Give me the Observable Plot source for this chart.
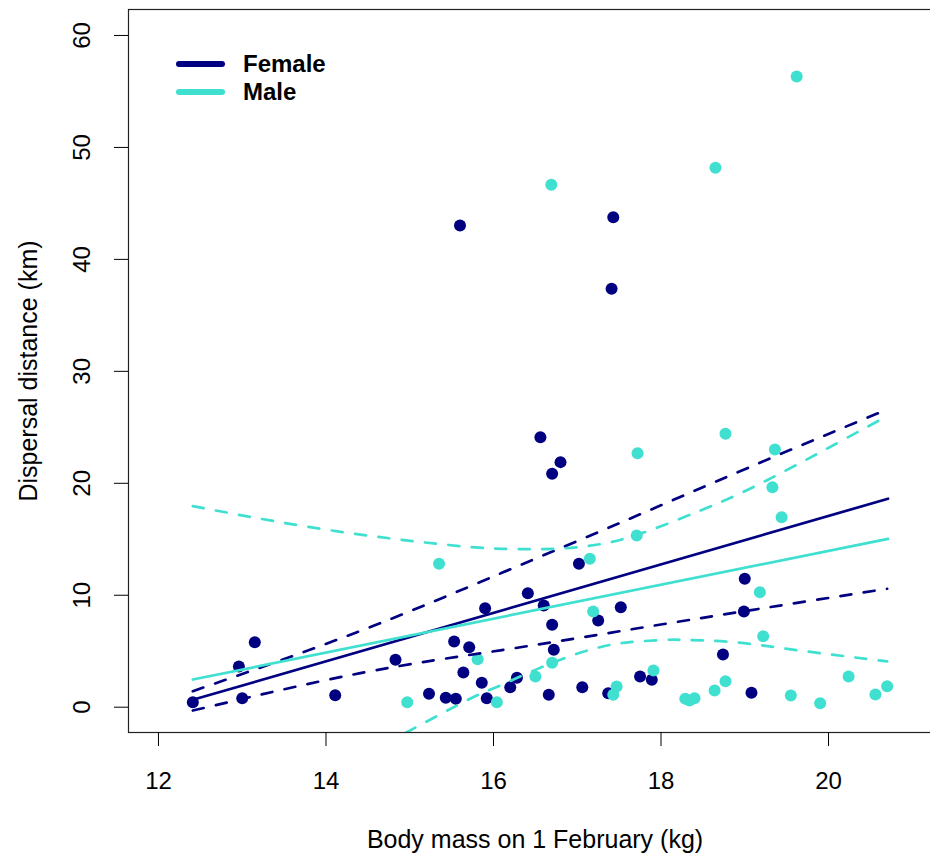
<!DOCTYPE html>
<html><head><meta charset="utf-8">
<script src="https://cdn.jsdelivr.net/npm/d3@7"></script>
<script src="https://cdn.jsdelivr.net/npm/@observablehq/plot@0.6"></script>
<style>
html,body{margin:0;padding:0;background:#fff;overflow:hidden;}
#wrap{position:relative;width:930px;height:857px;overflow:hidden;}
#wrap svg{max-width:none !important;display:block;}
#legend{position:absolute;left:176px;top:50px;font:bold 24px "Liberation Sans",Arial,sans-serif;color:#000;}
.row{display:flex;align-items:center;height:28.3px;}
.sw{width:49px;height:6px;border-radius:3px;margin-right:18px;}
</style></head><body><div id="wrap"><div id="legend"></div></div>
<script>
// Observed data
const femaleMass = [12.41,12.96,13.00,13.15,14.11,14.83,15.23,15.43,15.55,15.53,15.71,15.64,15.90,15.86,15.92,16.20,16.28,16.41,16.60,16.70,16.72,16.66,17.06,17.25,17.52,17.37,17.75,17.89,18.74,19.00,18.99,19.08,17.02,16.56,16.80,16.70,15.60,17.43,17.41];
const femaleDist = [0.45,3.63,0.80,5.81,1.07,4.23,1.20,0.84,0.75,5.87,5.36,3.10,8.84,2.18,0.80,1.79,2.63,10.18,9.08,7.36,5.13,1.11,1.79,7.74,8.93,1.25,2.74,2.45,4.71,11.47,8.55,1.29,12.81,24.12,21.89,20.85,43.03,43.77,37.37];
const maleMass = [19.62,18.65,16.69,15.35,14.97,15.81,16.04,16.50,16.70,17.15,17.19,17.47,17.43,17.72,17.71,17.91,18.29,18.34,18.40,18.64,18.77,18.77,19.18,19.22,19.36,19.33,19.44,19.55,19.90,20.24,20.56,20.70];
const maleDist = [56.34,48.18,46.66,12.81,0.45,4.29,0.45,2.74,3.97,13.26,8.55,1.85,1.11,22.69,15.34,3.28,0.75,0.60,0.80,1.49,2.32,24.42,10.27,6.34,23.02,19.65,16.97,1.05,0.36,2.74,1.13,1.88];

// Fitted lines and confidence bands
const femaleFitX = [12.41, 20.71];
const femaleFitY = [0.66, 18.62];
const femaleUpperX = [12.41, 14.37, 16.10, 17.60, 19.06, 20.70];
const femaleUpperY = [1.43, 6.70, 12.00, 16.75, 21.45, 26.60];
const femaleLowerX = [12.41, 14.41, 16.10, 17.60, 19.10, 20.70];
const femaleLowerY = [-0.30, 3.04, 5.10, 6.90, 8.70, 10.58];
const maleFitX = [12.41, 20.71];
const maleFitY = [2.47, 15.04];
const maleUpperX = [12.41, 13.93, 15.32, 16.10, 16.72, 17.07, 17.63, 18.47, 19.26, 20.70];
const maleUpperY = [17.96, 15.94, 14.60, 14.15, 14.15, 14.35, 15.20, 17.57, 20.25, 26.00];
const maleLowerX = [14.95, 15.72, 16.08, 16.72, 17.27, 17.63, 18.07, 18.31, 18.87, 19.66, 20.70];
const maleLowerY = [-2.29, 0.75, 1.94, 4.02, 5.36, 5.81, 6.02, 6.00, 5.81, 5.06, 4.10];

const xTicks = [12, 14, 16, 18, 20];
const yTicks = [0, 10, 20, 30, 40, 50, 60];
const legendLabels = ["Female", "Male"];
const legendColors = ["navy", "turquoise"];
const xTitle = "Body mass on 1 February (kg)";
const yTitle = "Dispersal distance (km)";

const F = "'Liberation Sans', Arial, sans-serif";
const lw = 2.7;
const dash = "11,12.5";
const seq = (X) => ({length: X.length});

const chart = Plot.plot({
  width: 950, height: 857,
  marginLeft: 128, marginRight: 9, marginTop: 9, marginBottom: 125,
  x: {domain: [11.642, 21.349]},
  y: {domain: [-2.26, 62.32]},
  style: {fontFamily: F, fontSize: "24px", color: "black", background: "white", maxWidth: "none"},
  marks: [
    Plot.dot(seq(femaleMass), {x: femaleMass, y: femaleDist, r: 6, fill: legendColors[0]}),
    Plot.dot(seq(maleMass), {x: maleMass, y: maleDist, r: 6, fill: legendColors[1]}),
    Plot.line(seq(femaleFitX), {x: femaleFitX, y: femaleFitY, stroke: legendColors[0], strokeWidth: lw}),
    Plot.line(seq(femaleUpperX), {x: femaleUpperX, y: femaleUpperY, stroke: legendColors[0], strokeWidth: lw, strokeDasharray: dash, curve: "natural"}),
    Plot.line(seq(femaleLowerX), {x: femaleLowerX, y: femaleLowerY, stroke: legendColors[0], strokeWidth: lw, strokeDasharray: dash, curve: "natural"}),
    Plot.line(seq(maleFitX), {x: maleFitX, y: maleFitY, stroke: legendColors[1], strokeWidth: lw}),
    Plot.line(seq(maleUpperX), {x: maleUpperX, y: maleUpperY, stroke: legendColors[1], strokeWidth: lw, strokeDasharray: dash, curve: "natural"}),
    Plot.line(seq(maleLowerX), {x: maleLowerX, y: maleLowerY, stroke: legendColors[1], strokeWidth: lw, strokeDasharray: dash, curve: "natural", clip: true}),
    Plot.frame({stroke: "#222", strokeWidth: 1.2}),
    Plot.axisX({ticks: xTicks, tickSize: 14, tickPadding: 25, fontSize: 24, label: null, tickFormat: d => String(d)}),
    Plot.axisY({ticks: yTicks, tickSize: 14, label: null, tickFormat: () => ""}),
    Plot.text(yTicks, {y: d => d, text: d => String(d), frameAnchor: "left", dx: -46, rotate: -90, fontSize: 24, textAnchor: "middle", lineAnchor: "middle"}),
    Plot.text([xTitle], {frameAnchor: "bottom", dy: 107, fontSize: 25, textAnchor: "middle", lineAnchor: "middle"}),
    Plot.text([yTitle], {frameAnchor: "left", dx: -100, rotate: -90, fontSize: 25, textAnchor: "middle", lineAnchor: "middle"})
  ]
});
document.getElementById("wrap").prepend(chart);

const lg = document.getElementById("legend");
legendLabels.forEach((lab, i) => {
  const row = document.createElement("div");
  row.className = "row";
  const sw = document.createElement("span");
  sw.className = "sw";
  sw.style.background = legendColors[i];
  const t = document.createElement("span");
  t.textContent = lab;
  row.append(sw, t);
  lg.append(row);
});
</script></body></html>
